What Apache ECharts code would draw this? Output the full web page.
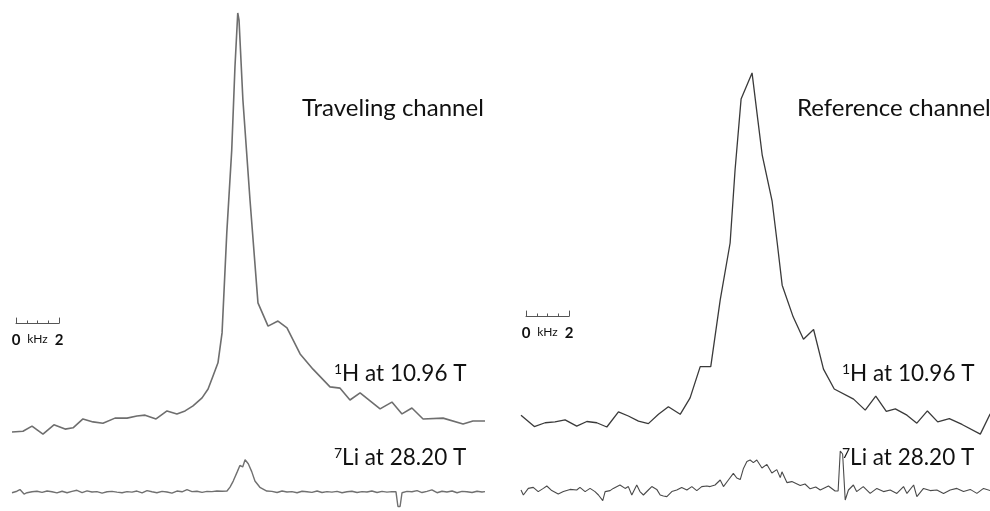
<!DOCTYPE html>
<html>
<head>
<meta charset="utf-8">
<script src="https://cdn.jsdelivr.net/npm/echarts@6/dist/echarts.min.js"></script>
<style>
  html, body { margin: 0; padding: 0; background: #ffffff; }
  #chart { width: 990px; height: 511px; }
</style>
</head>
<body>
<div id="chart"></div>
<script>
// 1H spectra, [frequency offset in kHz, normalised intensity]
const hTraveling = [
  [0.00, 0.7], [0.51, 0.9], [0.93, 2.1], [1.44, 0.2], [1.95, 2.4], [2.47, 1.4],
  [2.84, 1.7], [3.30, 3.8], [3.77, 3.1], [4.23, 2.8], [4.79, 4.0], [5.35, 4.0],
  [5.81, 4.5], [6.19, 4.7], [6.70, 3.8], [7.21, 5.7], [7.67, 5.0], [8.05, 5.7],
  [8.42, 6.9], [8.84, 8.8], [9.12, 10.9], [9.35, 14.0], [9.58, 17.1], [9.77, 24.2],
  [9.99, 47.9], [10.22, 67.5], [10.37, 87.2], [10.50, 100.0], [10.56, 98.3],
  [10.74, 79.4], [11.07, 55.7], [11.44, 31.3], [11.91, 25.8], [12.37, 27.0],
  [12.79, 25.4], [13.40, 19.2], [14.00, 15.6], [14.79, 11.4], [15.26, 11.1],
  [15.72, 8.3], [16.19, 10.0], [17.12, 6.2], [17.67, 7.8], [18.14, 5.0],
  [18.60, 6.4], [19.12, 3.8], [20.05, 4.0], [20.98, 2.6], [21.44, 3.3], [22.00, 3.3]
];
const hReference = [
  [0.00, 4.7], [0.62, 2.0], [1.12, 2.9], [1.58, 3.1], [2.05, 3.6], [2.59, 2.1],
  [3.06, 3.2], [3.52, 2.9], [3.99, 1.9], [4.53, 5.5], [4.99, 4.5], [5.46, 3.3],
  [5.92, 2.7], [6.39, 4.9], [6.85, 6.7], [7.40, 4.9], [7.86, 8.8], [8.33, 16.2],
  [8.82, 16.2], [9.26, 32.0], [9.72, 45.5], [9.95, 62.8], [10.23, 79.6],
  [10.74, 85.8], [11.01, 74.6], [11.21, 66.4], [11.67, 55.5], [11.91, 45.5],
  [12.14, 35.5], [12.65, 28.0], [13.13, 22.7], [13.60, 25.0], [14.06, 15.6],
  [14.56, 10.9], [15.46, 8.5], [16.00, 5.9], [16.49, 9.2], [16.98, 5.6],
  [17.40, 6.2], [17.94, 4.7], [18.40, 2.8], [18.89, 5.7], [19.37, 3.1],
  [19.91, 3.9], [20.50, 2.5], [21.35, 0.2], [21.81, 5.0]
];

// 7Li spectra, [frequency offset in kHz, intensity]
const liTraveling = [
  [0.00, -0.3], [0.23, 0.5], [0.37, 1.4], [0.56, -1.0], [0.70, -0.3], [0.93, 0.2],
  [1.16, 0.5], [1.40, -0.1], [1.63, 0.6], [1.86, 0.2], [2.09, -0.4], [2.33, 0.5],
  [2.56, -0.3], [2.79, 0.4], [3.02, 1.0], [3.26, -0.2], [3.49, 0.7], [3.72, 0.1],
  [3.95, 0.3], [4.19, -0.5], [4.42, 0.2], [4.65, 0.4], [4.88, 0.0], [5.12, -0.3],
  [5.35, 0.3], [5.58, 0.0], [5.81, 0.6], [6.05, -0.4], [6.28, 0.8], [6.51, 0.2],
  [6.74, -0.3], [6.98, 0.4], [7.21, 0.1], [7.44, -0.5], [7.67, 0.6], [7.91, 0.2],
  [8.14, 1.3], [8.37, 0.3], [8.60, 0.5], [8.84, -0.1], [9.07, 0.4], [9.30, 0.3],
  [9.53, 0.6], [9.77, 0.5], [10.00, 0.6], [10.14, 2.7], [10.29, 5.9], [10.48, 10.9],
  [10.60, 14.2], [10.73, 13.4], [10.84, 17.2], [10.99, 15.1], [11.15, 10.9],
  [11.30, 5.9], [11.53, 2.6], [11.85, 0.6], [12.09, 0.4], [12.33, -0.2], [12.56, 0.6],
  [12.79, 0.1], [13.02, 0.3], [13.26, -0.3], [13.49, 0.5], [13.72, 0.2], [13.95, -0.1],
  [14.19, 0.6], [14.42, -0.2], [14.65, 0.3], [14.88, 0.0], [15.12, 0.4], [15.35, -0.3],
  [15.58, 0.2], [15.81, 0.5], [16.05, -0.2], [16.28, 0.3], [16.51, 0.1], [16.74, 0.6],
  [16.98, -0.2], [17.21, 0.4], [17.44, 0.0], [17.67, 0.3], [17.86, 0.2], [17.95, -7.6],
  [18.05, -7.6], [18.14, -0.3], [18.37, 0.4], [18.60, 0.2], [18.84, 0.8], [19.07, -0.2],
  [19.30, 0.4], [19.53, 1.2], [19.77, -0.3], [20.00, 0.5], [20.23, 0.1], [20.47, 0.6],
  [20.70, -0.3], [20.93, 0.4], [21.16, 0.2], [21.40, -0.2], [21.63, 0.5], [21.86, 0.1],
  [22.00, 0.3]
];
const liReference = [
  [0.00, 0.5], [0.11, -2.0], [0.34, 1.3], [0.57, 1.8], [0.80, -0.3], [1.04, 1.3],
  [1.20, 2.5], [1.43, 0.2], [1.73, -1.5], [1.97, -0.3], [2.28, 0.8], [2.59, 0.5],
  [2.74, 1.8], [2.98, -0.3], [3.21, 1.3], [3.44, -0.3], [3.60, -2.0], [3.80, -4.8],
  [3.91, -0.3], [4.14, 0.2], [4.29, 1.3], [4.60, 3.0], [4.84, 1.3], [4.99, 2.2],
  [5.15, -2.0], [5.38, 3.0], [5.53, -0.3], [5.69, -2.0], [5.92, 0.5], [6.08, 2.2],
  [6.31, 0.8], [6.47, -2.0], [6.62, -2.5], [6.78, -2.8], [7.01, -0.3], [7.24, 0.5],
  [7.47, 1.8], [7.71, 0.5], [7.94, 2.2], [8.17, 0.2], [8.40, 2.2], [8.64, 2.5],
  [8.79, 2.2], [9.02, 3.0], [9.26, 5.5], [9.41, 2.2], [9.64, 5.5], [9.87, 8.8],
  [10.03, 6.5], [10.19, 5.7], [10.34, 11.3], [10.50, 14.7], [10.65, 15.5],
  [10.80, 14.2], [10.96, 15.5], [11.04, 15.8], [11.20, 11.5], [11.43, 13.3],
  [11.66, 9.0], [11.89, 10.7], [12.05, 6.7], [12.13, 9.6], [12.36, 4.2], [12.59, 4.7],
  [12.98, 2.7], [13.20, 3.5], [13.44, 1.1], [13.70, 2.0], [13.91, 0.5], [14.29, 2.5],
  [14.60, 0.0], [14.74, 0.0], [14.84, 20.0], [14.95, 18.5], [15.07, -4.5], [15.22, 0.5],
  [15.45, 3.0], [15.60, -0.3], [15.91, 2.2], [16.23, -1.2], [16.54, 1.3], [16.85, -0.3],
  [17.16, 0.5], [17.47, -1.2], [17.78, 2.2], [17.94, -1.2], [18.25, 3.0], [18.40, -2.8],
  [18.71, 1.3], [19.02, 0.2], [19.33, 0.5], [19.64, -1.2], [19.95, 0.5], [20.26, 1.3],
  [20.57, -0.3], [20.88, 0.8], [21.19, -1.2], [21.50, 1.3], [21.81, 0.2]
];

// frequency scale bar: 0 to 2 kHz in 0.5 kHz steps, unit written at its centre
const scaleBarKHz = [0, 2];
const scaleBarStep = 0.5;
const scaleBarUnit = 'kHz';

const panelTitles = ['Traveling channel', 'Reference channel'];
const hLabel = { mass: '1', text: 'H at 10.96 T' };
const liLabel = { mass: '7', text: 'Li at 28.20 T' };

const FONT = 'Lato, "Open Sans", sans-serif';
const chart = echarts.init(document.getElementById('chart'), null, { renderer: 'canvas' });

const hiddenX = (grid, max) => ({ type: 'value', gridIndex: grid, min: 0, max: max, show: false });
const hiddenY = (grid, min, max) => ({ type: 'value', gridIndex: grid, min: min, max: max, show: false });

function scaleX(grid) {
  const mid = (scaleBarKHz[0] + scaleBarKHz[1]) / 2;
  return {
    type: 'value', gridIndex: grid, min: scaleBarKHz[0], max: scaleBarKHz[1], interval: scaleBarStep,
    axisLine: { show: true, onZero: false, lineStyle: { color: '#555', width: 1 } },
    axisTick: { show: true, inside: true, length: 2.5, lineStyle: { color: '#555', width: 1 } },
    splitLine: { show: false },
    axisLabel: {
      show: true, margin: 10, color: '#111', fontFamily: FONT, fontSize: 15, fontWeight: 'bold',
      showMinLabel: true, showMaxLabel: true, hideOverlap: false,
      formatter: v => {
        if (v === scaleBarKHz[0] || v === scaleBarKHz[1]) return String(v);
        if (v === mid) return '{u|' + scaleBarUnit + '}';
        return '';
      },
      rich: { u: { fontFamily: FONT, fontSize: 12, fontWeight: 'normal', color: '#111' } }
    }
  };
}
function scaleY(grid, pos) {
  return {
    type: 'value', gridIndex: grid, min: 0, max: 1, position: pos,
    axisLine: { show: true, lineStyle: { color: '#555', width: 1 } },
    axisTick: { show: false }, axisLabel: { show: false }, splitLine: { show: false }
  };
}

function trace(data, axisIdx, color, width) {
  return {
    type: 'line', data: data, xAxisIndex: axisIdx, yAxisIndex: axisIdx,
    showSymbol: false, symbol: 'none', clip: false, silent: true,
    lineStyle: { color: color, width: width }
  };
}

function richLabel(x, y, lab) {
  return {
    type: 'text', x: x, y: y, silent: true,
    style: {
      text: '{s|' + lab.mass + '}{n|' + lab.text + '}',
      verticalAlign: 'top', align: 'left',
      rich: {
        s: { fontFamily: FONT, fontSize: 14, fill: '#111', verticalAlign: 'top', lineHeight: 23 },
        n: { fontFamily: FONT, fontSize: 22.5, fill: '#111', lineHeight: 23 }
      }
    }
  };
}
function plainLabel(x, y, text) {
  return {
    type: 'text', x: x, y: y, silent: true,
    style: { text: text, fontFamily: FONT, fontSize: 24, fill: '#111', verticalAlign: 'top', align: 'left' }
  };
}

chart.setOption({
  animation: false,
  backgroundColor: '#ffffff',
  grid: [
    { left: 12, top: 13, width: 473, height: 422 },   // traveling 1H
    { left: 12, top: 454.5, width: 473, height: 60 }, // traveling 7Li
    { left: 521, top: 13, width: 469, height: 422 },  // reference 1H
    { left: 521, top: 447, width: 469, height: 64 },  // reference 7Li
    { left: 16, top: 318, width: 43, height: 5 },     // scale bar, left panel
    { left: 526, top: 311, width: 43, height: 5 }     // scale bar, right panel
  ],
  xAxis: [
    hiddenX(0, 22), hiddenX(1, 22), hiddenX(2, 21.8), hiddenX(3, 21.8),
    scaleX(4), scaleX(5)
  ],
  yAxis: [
    hiddenY(0, 0, 100), hiddenY(1, -10, 20), hiddenY(2, 0, 100), hiddenY(3, -10, 22),
    scaleY(4, 'left'), scaleY(5, 'left'), scaleY(4, 'right'), scaleY(5, 'right')
  ],
  series: [
    trace(hTraveling, 0, '#6e6e6e', 1.6),
    trace(liTraveling, 1, '#707070', 1.4),
    trace(hReference, 2, '#3a3a3a', 1.3),
    trace(liReference, 3, '#4a4a4a', 1.1)
  ],
  graphic: [
    plainLabel(302, 96, panelTitles[0]),
    plainLabel(797, 96, panelTitles[1]),
    richLabel(334, 362, hLabel),
    richLabel(334, 446, liLabel),
    richLabel(842, 362, hLabel),
    richLabel(842, 446, liLabel)
  ]
});
</script>
</body>
</html>
